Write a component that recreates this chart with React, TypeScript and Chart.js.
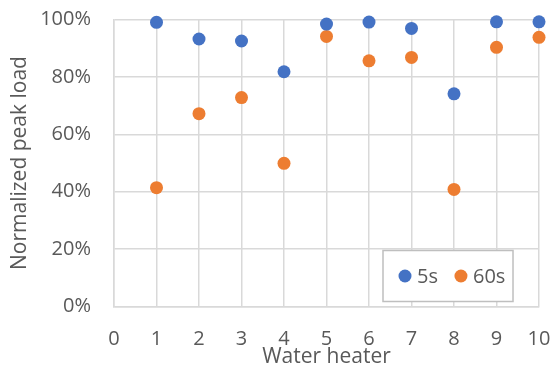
import React, { useEffect, useRef } from "react";
import { Chart, registerables } from "chart.js";

Chart.register(...registerables);

const heaters = [1, 2, 3, 4, 5, 6, 7, 8, 9, 10];
const load5s = [0.99, 0.932, 0.925, 0.818, 0.984, 0.991, 0.969, 0.741, 0.992, 0.992];
const load60s = [0.414, 0.672, 0.728, 0.499, 0.941, 0.856, 0.868, 0.408, 0.903, 0.938];
const seriesLabels = ["5s", "60s"];
const seriesColors = ["#4472C4", "#ED7D31"];
const xTitle = "Water heater";
const yTitle = "Normalized peak load";

const FONT = "'Open Sans', sans-serif";

const legendPlugin = {
  id: "insideLegend",
  afterDatasetsDraw(chart: any) {
    const { ctx, chartArea } = chart;
    const w = 130;
    const h = 51;
    const x = chartArea.right - 26 - w;
    const y = chartArea.bottom - 5 - h;
    ctx.save();
    ctx.fillStyle = "#ffffff";
    ctx.fillRect(x, y, w, h);
    ctx.strokeStyle = "#bfbfbf";
    ctx.lineWidth = 1.5;
    ctx.strokeRect(x, y, w, h);
    const cy = y + h / 2;
    ctx.font = `20px ${FONT}`;
    ctx.textBaseline = "middle";
    ctx.textAlign = "left";
    let cx = x + 22;
    chart.data.datasets.forEach((ds: any) => {
      ctx.beginPath();
      ctx.fillStyle = ds.backgroundColor;
      ctx.arc(cx, cy, 6.5, 0, Math.PI * 2);
      ctx.fill();
      ctx.fillStyle = "#595959";
      ctx.fillText(ds.label, cx + 12, cy + 1);
      cx += 12 + ctx.measureText(ds.label).width + 23;
    });
    ctx.restore();
  },
};

export default function App() {
  const ref = useRef<HTMLCanvasElement | null>(null);
  useEffect(() => {
    document.body.style.margin = "0";
    const canvas = ref.current!;
    const chart = new Chart(canvas, {
      type: "scatter",
      data: {
        datasets: [load5s, load60s].map((vals, i) => ({
          label: seriesLabels[i],
          data: heaters.map((x, j) => ({ x, y: vals[j] })),
          backgroundColor: seriesColors[i],
          borderColor: seriesColors[i],
          pointRadius: 6.5,
          pointBorderWidth: 0,
          clip: false as any,
        })),
      },
      options: {
        responsive: false,
        animation: false,
        layout: { padding: { top: 19.5, right: 14, left: 0, bottom: 0 } },
        plugins: { legend: { display: false }, tooltip: { enabled: false } },
        scales: {
          x: {
            type: "linear",
            min: 0,
            max: 10,
            ticks: { stepSize: 1, color: "#595959", font: { family: FONT, size: 20 }, padding: 21 },
            grid: { color: "#d9d9d9", lineWidth: 1.5, drawTicks: false },
            border: { color: "#d9d9d9", width: 1.5 },
            title: {
              display: true,
              text: xTitle,
              color: "#595959",
              font: { family: FONT, size: 21 },
              padding: { top: 0, bottom: 2 },
            },
            afterFit: (s: any) => {
              s.height = 65.5;
              s.paddingLeft = 0;
              s.paddingRight = 0;
              s.paddingTop = 0;
              s.paddingBottom = 0;
            },
          },
          y: {
            min: 0,
            max: 1,
            ticks: {
              stepSize: 0.2,
              color: "#595959",
              font: { family: FONT, size: 20 },
              padding: 23,
              callback: (v: any) => Math.round(Number(v) * 100) + "%",
            },
            grid: { color: "#d9d9d9", lineWidth: 1.5, drawTicks: false },
            border: { color: "#d9d9d9", width: 1.5 },
            title: {
              display: true,
              text: yTitle,
              color: "#595959",
              font: { family: FONT, size: 21 },
              padding: { top: 7, bottom: 0 },
            },
            afterFit: (s: any) => {
              s.width = 114;
              s.paddingLeft = 0;
              s.paddingRight = 0;
              s.paddingTop = 0;
              s.paddingBottom = 0;
            },
          },
        },
      },
      plugins: [legendPlugin],
    });
    return () => chart.destroy();
  }, []);
  return <canvas ref={ref} width={553} height={372} style={{ display: "block" }} />;
}
